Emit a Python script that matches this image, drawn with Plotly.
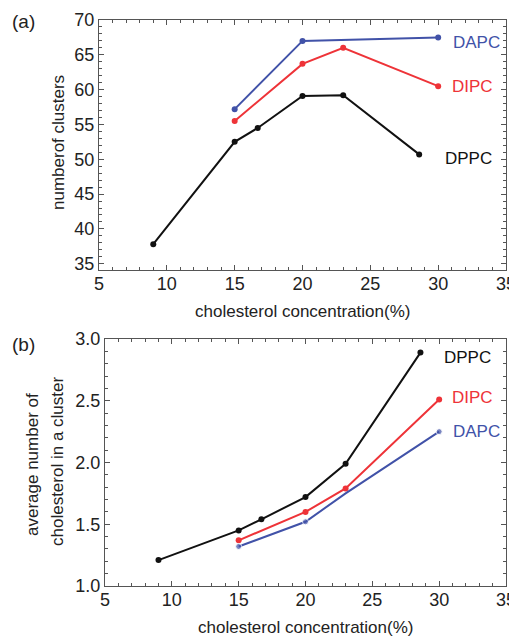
import plotly.graph_objects as go

# ---- data ----
x_dppc = [9, 15, 16.7, 20, 23, 28.6]
x_dipc = [15, 20, 23, 30]
x_dapc_a = [15, 20, 30]
x_dapc_b = [15, 20, 23, 30]

clusters_dppc = [37.8, 52.5, 54.5, 59.1, 59.2, 50.7]
clusters_dipc = [55.5, 63.7, 66.0, 60.5]
clusters_dapc = [57.2, 67.0, 67.5]

avg_dppc = [1.21, 1.45, 1.54, 1.72, 1.99, 2.89]
avg_dipc = [1.37, 1.60, 1.79, 2.51]
avg_dapc = [1.32, 1.52, 1.75, 2.25]

x_ticks = [5, 10, 15, 20, 25, 30, 35]
ya_ticks = [35, 40, 45, 50, 55, 60, 65, 70]
yb_ticks = [1.0, 1.5, 2.0, 2.5, 3.0]
yb_labels = ["1.0", "1.5", "2.0", "2.5", "3.0"]

BLACK = "#111111"
RED = "#ee3338"
BLUE = "#4152a8"
FONT = "Liberation Sans, Arial, sans-serif"

fig = go.Figure()

def add(x, y, color, xa, ya, sizes=6):
    fig.add_trace(go.Scatter(
        x=x, y=y, mode="lines+markers", xaxis=xa, yaxis=ya,
        line=dict(color=color, width=2),
        marker=dict(color=color, size=sizes),
        showlegend=False, hoverinfo="x+y"))

add(x_dppc, clusters_dppc, BLACK, "x", "y")
add(x_dipc, clusters_dipc, RED, "x", "y")
add(x_dapc_a, clusters_dapc, BLUE, "x", "y")

add(x_dppc, avg_dppc, BLACK, "x2", "y2")
add(x_dipc, avg_dipc, RED, "x2", "y2")
add(x_dapc_b, avg_dapc, BLUE, "x2", "y2", sizes=[6, 6, 0, 6])

# page has an 8px body margin; figure is sized so it fills the window
OFF = 8
W, H = 517 - OFF, 637 - OFF

def px_x(rx):
    return (rx - OFF) / W

def px_y(ry):
    return 1 - (ry - OFF) / H

def axis_common():
    return dict(
        showline=True, linecolor="#555555", linewidth=1.2, mirror="ticks",
        ticks="inside", ticklen=5, tickwidth=1, tickcolor="#555555",
        showgrid=False, zeroline=False, automargin=False,
        tickfont=dict(family=FONT, size=18, color="#222222"),
        fixedrange=True,
    )

MINOR = dict(ticks="inside", ticklen=3, tickcolor="#555555", showgrid=False)

xa = axis_common(); xa.update(domain=[px_x(99), px_x(506)], range=[5, 35],
                               tickvals=x_ticks, anchor="y", ticklabelstandoff=-3,
                               minor=dict(dtick=1, **MINOR))
ya = axis_common(); ya.update(domain=[px_y(270), px_y(20)], range=[34.1, 70],
                               tickvals=ya_ticks, anchor="x",
                               minor=dict(dtick=1, tick0=0, **MINOR))
xb = axis_common(); xb.update(domain=[px_x(105), px_x(506)], range=[5, 35],
                               tickvals=x_ticks, anchor="y2", ticklabelstandoff=-3,
                               minor=dict(dtick=1, **MINOR))
yb = axis_common(); yb.update(domain=[px_y(586), px_y(339)], range=[1.0, 3.0],
                               tickvals=yb_ticks, ticktext=yb_labels, anchor="x2",
                               minor=dict(dtick=0.1, tick0=0, **MINOR))

anns = []
def lab(text, x, y, color, xref, yref, size=17):
    anns.append(dict(text=text, x=x, y=y, xref=xref, yref=yref, showarrow=False,
                     xanchor="center", yanchor="middle",
                     font=dict(family=FONT, size=size, color=color)))

# series labels
lab("DAPC", 32.85, 66.8, BLUE, "x", "y")
lab("DIPC", 32.55, 60.5, RED, "x", "y")
lab("DPPC", 32.2, 50.1, BLACK, "x", "y")
lab("DPPC", 32.1, 2.85, BLACK, "x2", "y2")
lab("DIPC", 32.5, 2.53, RED, "x2", "y2")
lab("DAPC", 32.8, 2.25, BLUE, "x2", "y2")

def pap(text, rx, ry, size, angle=0, color="#222222"):
    anns.append(dict(text=text, x=px_x(rx), y=px_y(ry), xref="paper", yref="paper",
                     showarrow=False, textangle=angle, xanchor="center", yanchor="middle",
                     font=dict(family=FONT, size=size, color=color)))

pap("(a)", 24, 21, 19)
pap("(b)", 24, 344, 19)
pap("cholesterol concentration(%)", 302, 311, 17)
pap("cholesterol concentration(%)", 305, 627, 17)
pap("numberof clusters", 58, 143, 17, angle=-90)
pap("average number of", 32, 465, 17, angle=-90)
pap("cholesterol in a cluster", 57, 462, 17, angle=-90)

fig.update_layout(
    width=W, height=H, margin=dict(l=0, r=0, t=0, b=0, autoexpand=False),
    paper_bgcolor="white", plot_bgcolor="white",
    xaxis=xa, yaxis=ya, xaxis2=xb, yaxis2=yb,
    annotations=anns, showlegend=False,
)

fig.write_html("out.html")
